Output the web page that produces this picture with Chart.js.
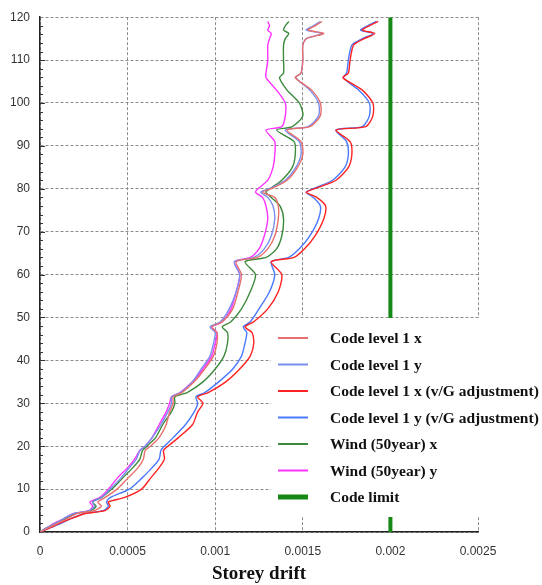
<!DOCTYPE html>
<html>
<head>
<meta charset="utf-8">
<script src="https://cdn.jsdelivr.net/npm/chart.js@4.4.1/dist/chart.umd.min.js"></script>
<style>
  html, body { margin: 0; padding: 0; background: #fff; }
  canvas { display: block; }
</style>
</head>
<body>
<canvas id="driftChart" width="542" height="585"></canvas>
<script>
// storey levels shared by every drift series
const storeys = [0, 1, 2, 3, 4.3, 5, 6, 7, 8, 10,
  12.5, 15, 17, 19, 20, 22, 25, 28, 30, 31.5,
  32.5, 35, 38, 41, 44, 46.5, 47.8, 49, 52, 56,
  60, 63, 64, 66, 69, 73, 76, 78, 79.2, 80.2,
  82, 85, 88, 91, 93.7, 94.5, 97, 100, 103, 105.9,
  107, 110, 113.5, 115, 116.2, 117, 118, 119];

const level1X = [0, 0.00005, 0.0001, 0.00015, 0.00021, 0.00031, 0.00035, 0.00033, 0.00037, 0.00044,
  0.0005, 0.00056, 0.00059, 0.0006, 0.00063, 0.00068, 0.00072, 0.00074, 0.00076, 0.00076,
  0.00081, 0.00088, 0.00094, 0.00099, 0.00101, 0.00101, 0.00098, 0.00104, 0.0011, 0.00113,
  0.00115, 0.00112, 0.00124, 0.0013, 0.00134, 0.00136, 0.00136, 0.00134, 0.00127, 0.00133,
  0.00141, 0.00147, 0.0015, 0.00149, 0.00141, 0.00154, 0.0016, 0.0016, 0.00155, 0.001457,
  0.00149, 0.0015, 0.0015, 0.00152, 0.00162, 0.00153, 0.00157, 0.00161];

const level1Y = [0, 0.00004, 0.00009, 0.00013, 0.00019, 0.00028, 0.00031, 0.0003, 0.00035, 0.0004,
  0.00046, 0.00051, 0.00055, 0.00057, 0.0006, 0.00064, 0.00069, 0.00073, 0.00075, 0.00075,
  0.0008, 0.00087, 0.00092, 0.00097, 0.00099, 0.001, 0.00097, 0.00103, 0.00108, 0.00112,
  0.00114, 0.00111, 0.00122, 0.00128, 0.00132, 0.00134, 0.00133, 0.0013, 0.00126, 0.00132,
  0.0014, 0.00146, 0.00149, 0.00148, 0.0014, 0.00153, 0.00159, 0.00159, 0.00154, 0.00146,
  0.00149, 0.0015, 0.0015, 0.00152, 0.00161, 0.00152, 0.00156, 0.0016];

const vgX = [0, 0.00006, 0.00011, 0.00017, 0.00026, 0.00037, 0.0004, 0.00039, 0.00048, 0.00058,
  0.00063, 0.00068, 0.00071, 0.000705, 0.00073, 0.00079, 0.00087, 0.0009, 0.00093, 0.0009,
  0.00096, 0.00106, 0.00114, 0.0012, 0.00122, 0.00121, 0.00117, 0.00122, 0.0013, 0.00136,
  0.00138, 0.00132, 0.00145, 0.00151, 0.00157, 0.00162, 0.00163, 0.00158, 0.00152, 0.00158,
  0.00169, 0.00176, 0.00178, 0.00177, 0.00169, 0.00186, 0.0019, 0.0019, 0.00184, 0.00173,
  0.00176, 0.00177, 0.00179, 0.00185, 0.00191, 0.00184, 0.00188, 0.00193];

const vgY = [0, 0.00006, 0.00012, 0.00017, 0.00025, 0.00036, 0.00039, 0.00038, 0.0004, 0.00051,
  0.00058, 0.00064, 0.00068, 0.00069, 0.00071, 0.00076, 0.00083, 0.00088, 0.0009, 0.00089,
  0.00094, 0.00102, 0.0011, 0.00115, 0.00117, 0.00118, 0.00116, 0.0012, 0.00125, 0.00131,
  0.00134, 0.00132, 0.00142, 0.00148, 0.00154, 0.00159, 0.0016, 0.00156, 0.00152, 0.00157,
  0.00167, 0.00174, 0.00176, 0.00175, 0.00169, 0.00184, 0.00188, 0.00188, 0.00182, 0.00173,
  0.00175, 0.00176, 0.00178, 0.00184, 0.0019, 0.00183, 0.00187, 0.00192];

const windX = [0, 0.00004, 0.00009, 0.00014, 0.0002, 0.00029, 0.00032, 0.0003, 0.00035, 0.00041,
  0.00047, 0.00053, 0.00057, 0.000585, 0.00061, 0.00066, 0.0007, 0.00075, 0.00077, 0.00077,
  0.00084, 0.00093, 0.001, 0.00105, 0.00107, 0.00107, 0.00104, 0.00109, 0.00115, 0.0012,
  0.00123, 0.00117, 0.00129, 0.00135, 0.00138, 0.00139, 0.00137, 0.00132, 0.00129, 0.00132,
  0.00138, 0.00144, 0.001457, 0.00145, 0.00135, 0.00144, 0.0015, 0.00148, 0.00141, 0.001367,
  0.00139, 0.00139, 0.00139, 0.0014, 0.00142, 0.00139, 0.0014, 0.00142];

const windY = [0, 0.00004, 0.00008, 0.00013, 0.00019, 0.00028, 0.0003, 0.000285, 0.00034, 0.00039,
  0.00044, 0.0005, 0.00054, 0.00057, 0.0006, 0.00064, 0.00068, 0.00072, 0.00074, 0.00075,
  0.0008, 0.00087, 0.00093, 0.00098, 0.001, 0.00101, 0.00098, 0.00104, 0.00109, 0.00112,
  0.00114, 0.00111, 0.0012, 0.00125, 0.00128, 0.0013, 0.00129, 0.00127, 0.00123, 0.00125,
  0.0013, 0.00133, 0.00134, 0.00134, 0.00129, 0.00138, 0.0014, 0.0014, 0.00135, 0.00129,
  0.00129, 0.0013, 0.0013, 0.00131, 0.00132, 0.0013, 0.00131, 0.0013];

const codeLimit = 0.002;
const limitStoreys = [0, 120];

const xTicks = [0, 0.0005, 0.001, 0.0015, 0.002, 0.0025];
const xTickLabels = ['0', '0.0005', '0.001', '0.0015', '0.002', '0.0025'];
const yTicks = [0, 10, 20, 30, 40, 50, 60, 70, 80, 90, 100, 110, 120];

const toPoints = drifts => storeys.map((s, i) => ({ x: drifts[i], y: s }));

const series = (label, drifts, color) => ({
  label,
  data: toPoints(drifts),
  borderColor: color,
  borderWidth: 1.4,
  showLine: true,
  pointRadius: 0,
  tension: 0.25,
  legendWidth: 2
});

// y-axis minor ticks every 2 storeys, drawn inside the axis like the original
const minorTicks = {
  id: 'minorTicks',
  afterDatasetsDraw(chart) {
    const { ctx, scales: { y }, chartArea } = chart;
    ctx.save();
    ctx.strokeStyle = '#333';
    ctx.lineWidth = 1;
    for (let v = 2; v < 120; v += 2) {
      const py = Math.round(y.getPixelForValue(v)) + 0.5;
      ctx.beginPath();
      ctx.moveTo(chartArea.left, py);
      ctx.lineTo(chartArea.left + (v % 10 === 0 ? 5 : 3), py);
      ctx.stroke();
    }
    ctx.restore();
  }
};

// boxed legend sitting over the lower right of the plot
const boxLegend = {
  id: 'boxLegend',
  afterDraw(chart) {
    const ctx = chart.ctx;
    ctx.save();
    ctx.fillStyle = '#fff';
    ctx.fillRect(271, 318, chart.width - 271, 199);
    ctx.font = 'bold 15.5px "Liberation Serif", "Times New Roman", serif';
    ctx.textBaseline = 'middle';
    chart.data.datasets.forEach((ds, i) => {
      const yy = 338 + i * 26.5;
      ctx.strokeStyle = ds.borderColor;
      ctx.lineWidth = ds.legendWidth;
      ctx.beginPath();
      ctx.moveTo(278, yy);
      ctx.lineTo(308, yy);
      ctx.stroke();
      ctx.fillStyle = '#111';
      ctx.fillText(ds.label, 330, yy + 1);
    });
    ctx.restore();
  }
};

new Chart(document.getElementById('driftChart'), {
  type: 'scatter',
  data: {
    datasets: [
      series('Code level 1 x', level1X, '#e8706c'),
      series('Code level 1 y', level1Y, '#7b8ef0'),
      series('Code level 1 x (v/G adjustment)', vgX, '#ff2222'),
      series('Code level 1 y (v/G adjustment)', vgY, '#4a78ff'),
      series('Wind (50year) x', windX, '#3d8a3d'),
      series('Wind (50year) y', windY, '#ff33ff'),
      {
        label: 'Code limit',
        data: limitStoreys.map(s => ({ x: codeLimit, y: s })),
        borderColor: '#168816',
        borderWidth: 4,
        showLine: true,
        pointRadius: 0,
        legendWidth: 5
      }
    ]
  },
  options: {
    responsive: false,
    animation: false,
    layout: { padding: { top: 12, right: 64, bottom: 0, left: 0 } },
    plugins: { legend: { display: false }, tooltip: { enabled: false } },
    scales: {
      x: {
        type: 'linear',
        min: 0,
        max: 0.0025,
        afterBuildTicks: s => { s.ticks = xTicks.map(v => ({ value: v })); },
        afterFit: s => { s.height = 53; },
        ticks: {
          callback: (v, i) => xTickLabels[i],
          color: '#333',
          padding: 12,
          maxRotation: 0,
          font: { family: '"Liberation Sans", Arial, sans-serif', size: 12 }
        },
        grid: { color: '#8c8c8c', drawTicks: false },
        border: { color: '#222', width: 1.5, dash: [3, 2] }
      ,
        title: {
          display: true,
          text: 'Storey drift',
          color: '#111',
          padding: { top: 0, bottom: 1 },
          font: { family: '"Liberation Serif", "Times New Roman", serif', size: 19, weight: 'bold', lineHeight: 1 }
        }
      },
      y: {
        type: 'linear',
        min: 0,
        max: 120,
        afterBuildTicks: s => { s.ticks = yTicks.map(v => ({ value: v })); },
        afterFit: s => { s.width = 40; },
        ticks: {
          color: '#333',
          padding: 10,
          font: { family: '"Liberation Sans", Arial, sans-serif', size: 12 }
        },
        grid: { color: '#8c8c8c', drawTicks: false },
        border: { color: '#222', width: 1.5, dash: [3, 2] }
      }
    }
  },
  plugins: [minorTicks, boxLegend]
});
</script>
</body>
</html>
